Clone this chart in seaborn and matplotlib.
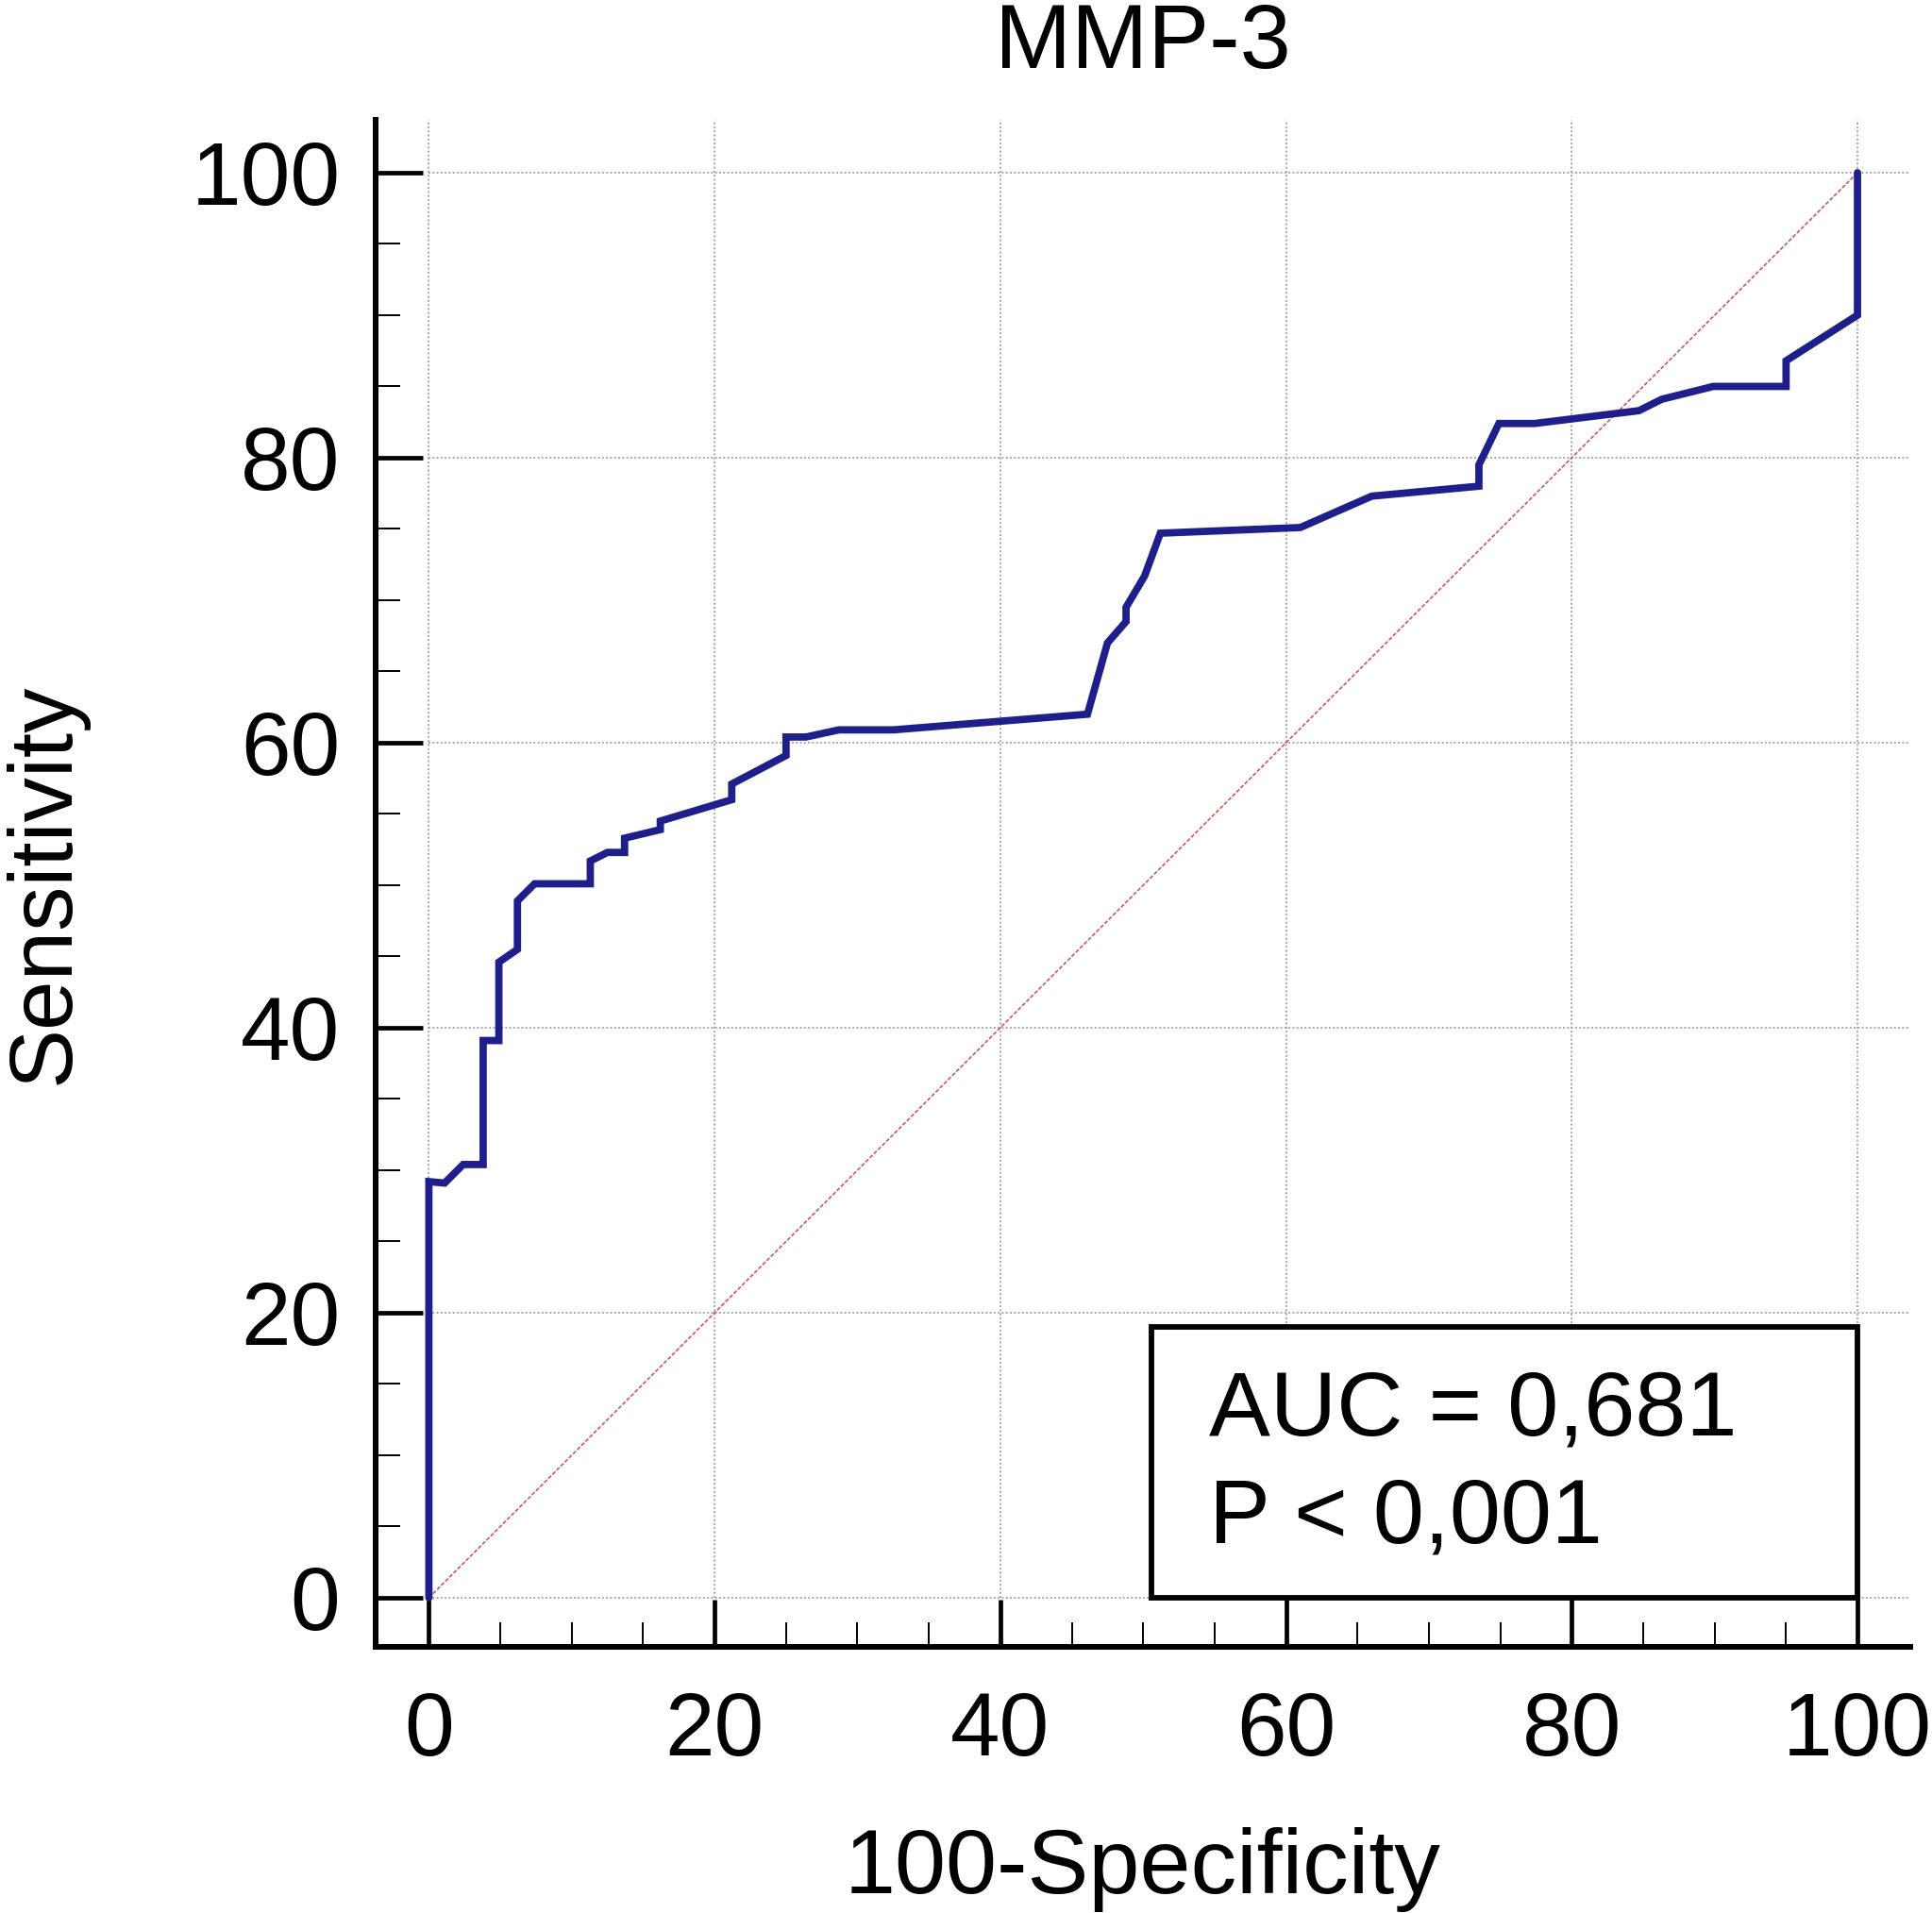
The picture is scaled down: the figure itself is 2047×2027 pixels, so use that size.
import numpy as np
import pandas as pd
import matplotlib
matplotlib.use("Agg")
import matplotlib.pyplot as plt
from matplotlib.ticker import MultipleLocator
from matplotlib.patches import Rectangle
import seaborn as sns

# ---- data ----
fpr = [0, 0, 1.1, 2.4, 3.8, 3.8, 4.9, 4.9, 6.2, 6.2,
       7.4, 11.3, 11.3, 12.5, 13.7, 13.7, 16.2, 16.2, 21.2, 21.2,
       25.0, 25.0, 26.4, 28.7, 32.5, 46.1, 47.5, 48.8, 48.8, 50.1,
       51.2, 61.0, 66.0, 73.5, 73.5, 74.9, 77.4, 84.7, 86.3, 89.9,
       95.0, 95.0, 100, 100]
tpr = [0, 29.2, 29.1, 30.4, 30.4, 39.1, 39.1, 44.6, 45.5, 48.9,
       50.1, 50.1, 51.7, 52.3, 52.3, 53.3, 53.9, 54.5, 56.0, 57.1,
       59.1, 60.4, 60.4, 60.9, 60.9, 62.0, 67.0, 68.5, 69.5, 71.7,
       74.7, 75.1, 77.3, 78.0, 79.5, 82.4, 82.4, 83.3, 84.1, 85.0,
       85.0, 86.8, 90.0, 100]
diag_x = [0, 100]
diag_y = [0, 100]
major_ticks = [0, 20, 40, 60, 80, 100]
title = "MMP-3"
xlabel = "100-Specificity"
ylabel = "Sensitivity"
auc_text = "AUC = 0,681"
p_text = "P < 0,001"

sns.set_style("white")
plt.rcParams['font.family'] = ['Liberation Sans', 'DejaVu Sans']
plt.rcParams.update({
    "text.color": "black",
    "axes.labelcolor": "black",
    "xtick.color": "black",
    "ytick.color": "black",
})

fig = plt.figure(figsize=(20.47, 20.27), dpi=100)
ax = fig.add_axes([0.1944, 0.1391, 0.7944, 0.7982])

xlim = (-3.73, 103.7)
ylim = (-3.45, 103.7)
ax.set_xlim(*xlim)
ax.set_ylim(*ylim)

grid_kw = dict(color="#a8a8a8", linewidth=1.4, linestyles=(0, (1, 1.2)), zorder=1)
ax.vlines(major_ticks, 0, ylim[1], **grid_kw)
ax.hlines(major_ticks, 0, xlim[1], **grid_kw)

df_diag = pd.DataFrame({"x": diag_x, "y": diag_y})
sns.lineplot(data=df_diag, x="x", y="y", sort=False, estimator=None,
             color="#c85a5a", linewidth=1.2, linestyle=(0, (2.5, 1.2)), ax=ax, zorder=2)

df = pd.DataFrame({"fpr": fpr, "tpr": tpr})
sns.lineplot(data=df, x="fpr", y="tpr", sort=False, estimator=None,
             color="#1f1f8c", linewidth=5.6, ax=ax, zorder=4)
ax.lines[-1].set_solid_joinstyle("miter")

# AUC box
rect = Rectangle((50.6, 0), 100 - 50.6, 19.0, facecolor="white", edgecolor="black",
                 linewidth=4.2, zorder=5)
ax.add_patch(rect)
ax.text(54.6, 11.4, auc_text, fontsize=70, va="baseline", ha="left", color="black", zorder=6)
ax.text(54.6, 3.9, p_text, fontsize=70, va="baseline", ha="left", color="black", zorder=6)

# spines
for s in ["top", "right"]:
    ax.spines[s].set_visible(False)
for s in ["left", "bottom"]:
    ax.spines[s].set_linewidth(4.3)
    ax.spines[s].set_color("black")

ax.set_xticks(major_ticks)
ax.set_yticks(major_ticks)
ax.xaxis.set_minor_locator(MultipleLocator(5))
ax.yaxis.set_minor_locator(MultipleLocator(5))
ax.tick_params(which="both", bottom=True, left=True, top=False, right=False)
ax.tick_params(which="major", direction="in", length=36, width=3.4, color="black",
               labelsize=68, labelcolor="black")
ax.tick_params(which="minor", direction="in", length=19, width=1.4, color="black")
ax.tick_params(axis="x", which="major", pad=33)
ax.tick_params(axis="y", which="major", pad=27)

ax.set_xlabel(xlabel, fontsize=70, color="black")
ax.set_ylabel(ylabel, fontsize=68, color="black")
ax.xaxis.set_label_coords(0.5, -0.118)
ax.yaxis.set_label_coords(-0.188, 0.5)
ax.set_title(title, fontsize=70, pad=40, color="black")

fig.savefig("out.png", dpi=100, facecolor="white")
